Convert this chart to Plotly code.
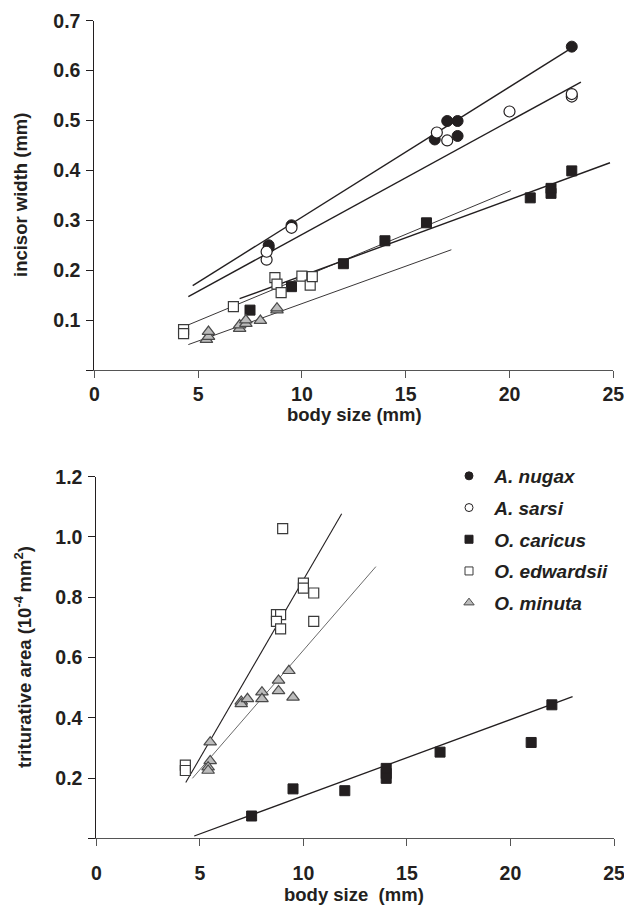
import plotly.graph_objects as go

# ---------------- data ----------------
species = ["A. nugax", "A. sarsi", "O. caricus", "O. edwardsii", "O. minuta"]

# top panel: incisor width (mm) vs body size (mm)
nugax_top_x = [8.4, 8.4, 9.5, 16.4, 17.0, 17.5, 17.5, 23.0]
nugax_top_y = [0.245, 0.250, 0.290, 0.462, 0.499, 0.499, 0.469, 0.648]
sarsi_top_x = [8.3, 8.3, 9.5, 16.5, 17.0, 20.0, 23.0, 23.0]
sarsi_top_y = [0.221, 0.237, 0.285, 0.476, 0.460, 0.518, 0.548, 0.553]
caricus_top_x = [7.5, 9.5, 12.0, 14.0, 16.0, 21.0, 22.0, 22.0, 23.0]
caricus_top_y = [0.120, 0.167, 0.213, 0.259, 0.295, 0.345, 0.354, 0.364, 0.399]
edwardsii_top_x = [4.3, 4.3, 6.7, 8.7, 8.8, 9.0, 10.0, 10.4, 10.5]
edwardsii_top_y = [0.081, 0.073, 0.127, 0.185, 0.172, 0.155, 0.188, 0.170, 0.187]
minuta_top_x = [5.4, 5.5, 5.5, 7.0, 7.0, 7.3, 7.3, 8.0, 8.8, 8.8]
minuta_top_y = [0.061, 0.067, 0.077, 0.083, 0.090, 0.093, 0.100, 0.099, 0.120, 0.124]

# top panel fitted lines: slope, intercept, x-extent
top_fit_slope = [0.0261, 0.02274, 0.01527, 0.01732, 0.0150]
top_fit_intercept = [0.0453, 0.044, 0.036, 0.012, -0.017]
top_fit_xmin = [4.74, 4.53, 7.0, 4.53, 4.53]
top_fit_xmax = [23.0, 23.44, 24.84, 20.06, 17.2]

# bottom panel: triturative area (1e-4 mm^2) vs body size (mm)
caricus_bot_x = [7.5, 9.5, 12.0, 14.0, 14.0, 14.0, 16.6, 21.0, 22.0]
caricus_bot_y = [0.074, 0.164, 0.158, 0.232, 0.215, 0.199, 0.286, 0.318, 0.443]
edwardsii_bot_x = [4.3, 4.3, 8.7, 8.9, 8.7, 8.9, 9.0, 10.0, 10.0, 10.5, 10.5]
edwardsii_bot_y = [0.243, 0.225, 0.742, 0.742, 0.720, 0.695, 1.028, 0.847, 0.830, 0.814, 0.720]
minuta_bot_x = [5.5, 5.5, 5.4, 5.4, 7.0, 7.0, 7.3, 8.0, 8.0, 8.8, 8.8, 9.3, 9.5]
minuta_bot_y = [0.319, 0.257, 0.236, 0.225, 0.454, 0.446, 0.463, 0.485, 0.463, 0.524, 0.489, 0.556, 0.468]

# bottom fitted lines (caricus, edwardsii, minuta)
bot_fit_slope = [0.0253, 0.1185, 0.0793]
bot_fit_intercept = [-0.112, -0.327, -0.169]
bot_fit_xmin = [4.73, 4.32, 4.64]
bot_fit_xmax = [23.0, 11.85, 13.5]

x_ticks = [0, 5, 10, 15, 20, 25]
top_y_ticks = [0, 0.1, 0.2, 0.3, 0.4, 0.5, 0.6, 0.7]
top_y_labels = [" ", "0.1", "0.2", "0.3", "0.4", "0.5", "0.6", "0.7"]
bot_y_ticks = [0, 0.2, 0.4, 0.6, 0.8, 1.0, 1.2]
bot_y_labels = [" ", "0.2", "0.4", "0.6", "0.8", "1.0", "1.2"]

# ---------------- styling ----------------
W, H = 624, 905
INK = "#231f20"
FONT = "Liberation Sans, Arial, sans-serif"

styles = {
    "A. nugax": dict(symbol="circle", size=11, color=INK, line=dict(color=INK, width=1)),
    "A. sarsi": dict(symbol="circle", size=11, color="white", line=dict(color=INK, width=1.2)),
    "O. caricus": dict(symbol="square", size=10, color=INK, line=dict(color=INK, width=1)),
    "O. edwardsii": dict(symbol="square", size=10, color="white", line=dict(color="#3a3a3a", width=1.2)),
    "O. minuta": dict(symbol="triangle-up", size=11, color="#bcbcbc", line=dict(color="#4a4a4a", width=1.2)),
}
legend_styles = {
    "A. nugax": dict(symbol="circle", size=8, color=INK, line=dict(color=INK, width=1)),
    "A. sarsi": dict(symbol="circle", size=8, color="white", line=dict(color=INK, width=1)),
    "O. caricus": dict(symbol="square", size=8, color=INK, line=dict(color=INK, width=1)),
    "O. edwardsii": dict(symbol="square", size=8, color="white", line=dict(color="#3a3a3a", width=1)),
    "O. minuta": dict(symbol="triangle-up", size=9, color="#bcbcbc", line=dict(color="#4a4a4a", width=1)),
}
top_line_w = [1.4, 1.4, 1.4, 0.9, 0.9]
bot_line_w = [1.3, 1.1, 0.8]
bot_line_c = [INK, INK, "#444444"]

fig = go.Figure()

# top fit lines
for i, sp in enumerate(species):
    xs = [top_fit_xmin[i], top_fit_xmax[i]]
    ys = [top_fit_slope[i] * v + top_fit_intercept[i] for v in xs]
    fig.add_trace(go.Scatter(x=xs, y=ys, mode="lines", showlegend=False, hoverinfo="skip",
                             line=dict(color=INK, width=top_line_w[i]), xaxis="x", yaxis="y"))
# bottom fit lines
for i, sp in enumerate(["O. caricus", "O. edwardsii", "O. minuta"]):
    xs = [bot_fit_xmin[i], bot_fit_xmax[i]]
    ys = [bot_fit_slope[i] * v + bot_fit_intercept[i] for v in xs]
    fig.add_trace(go.Scatter(x=xs, y=ys, mode="lines", showlegend=False, hoverinfo="skip",
                             line=dict(color=bot_line_c[i], width=bot_line_w[i]), xaxis="x2", yaxis="y2"))

top_data = {
    "A. nugax": (nugax_top_x, nugax_top_y),
    "A. sarsi": (sarsi_top_x, sarsi_top_y),
    "O. caricus": (caricus_top_x, caricus_top_y),
    "O. edwardsii": (edwardsii_top_x, edwardsii_top_y),
    "O. minuta": (minuta_top_x, minuta_top_y),
}
bot_data = {
    "O. caricus": (caricus_bot_x, caricus_bot_y),
    "O. edwardsii": (edwardsii_bot_x, edwardsii_bot_y),
    "O. minuta": (minuta_bot_x, minuta_bot_y),
}

for sp in species:
    x, y = top_data[sp]
    fig.add_trace(go.Scatter(x=x, y=y, mode="markers", name=sp, showlegend=False,
                             marker=styles[sp], xaxis="x", yaxis="y", cliponaxis=False))
for sp, (x, y) in bot_data.items():
    fig.add_trace(go.Scatter(x=x, y=y, mode="markers", name=sp, showlegend=False,
                             marker=styles[sp], xaxis="x2", yaxis="y2", cliponaxis=False))
# legend entries (smaller symbols as in the reference legend)
for sp in species:
    fig.add_trace(go.Scatter(x=[None], y=[None], mode="markers", name="\u00a0" + sp,
                             legendgroup=sp, marker=legend_styles[sp], xaxis="x2", yaxis="y2"))

tickfont = dict(family=FONT, size=19.5, color=INK, weight="bold")
common_x = dict(range=[0, 25], tickvals=x_ticks, ticks="outside", ticklen=7, tickwidth=1,
                tickcolor="#555555", showline=True, linecolor="#555555", linewidth=1,
                showgrid=False, zeroline=False, tickfont=tickfont, fixedrange=True,
                automargin=False, ticklabeloverflow="allow")
common_y = dict(ticks="outside", ticklen=7, tickwidth=1, tickcolor=INK, showline=True,
                linecolor=INK, linewidth=1, showgrid=False, zeroline=False,
                tickfont=tickfont, fixedrange=True, automargin=False, ticklabelstandoff=2,
                ticklabeloverflow="allow")

fig.update_layout(
    width=W, height=H,
    margin=dict(l=0, r=0, t=0, b=0, autoexpand=False),
    paper_bgcolor="white", plot_bgcolor="white",
    font=dict(family=FONT, color=INK),
    xaxis=dict(domain=[94.3 / W, 613.3 / W], anchor="y", ticklabelstandoff=0, **common_x),
    yaxis=dict(domain=[1 - 370 / H, 1 - 20.7 / H], anchor="x", range=[0, 0.7],
               tickvals=top_y_ticks, ticktext=top_y_labels, **common_y),
    xaxis2=dict(domain=[96.3 / W, 614 / W], anchor="y2", ticklabelstandoff=10, **common_x),
    yaxis2=dict(domain=[1 - 838.3 / H, 1 - 476.7 / H], anchor="x2", range=[0, 1.2],
                tickvals=bot_y_ticks, ticktext=bot_y_labels, **common_y),
    legend=dict(x=449 / W, y=1 - 457 / H, xanchor="left", yanchor="top",
                font=dict(family=FONT, size=19, color=INK, weight="bold", style="italic"),
                itemsizing="trace", tracegroupgap=4, bgcolor="rgba(0,0,0,0)"),
    showlegend=True,
)

title_font = dict(family=FONT, size=18.5, color=INK, weight="bold")
fig.add_annotation(text="body size (mm)", x=354 / W, y=1 - 414 / H, xref="paper", yref="paper",
                   showarrow=False, font=title_font, xanchor="center", yanchor="middle")
fig.add_annotation(text="body size\u00a0 (mm)", x=354 / W, y=1 - 894 / H, xref="paper", yref="paper",
                   showarrow=False, font=title_font, xanchor="center", yanchor="middle")
fig.add_annotation(text="incisor width (mm)", x=20 / W, y=1 - 195 / H, xref="paper", yref="paper",
                   showarrow=False, font=title_font, textangle=-90, xanchor="center", yanchor="middle")
fig.add_annotation(text="triturative area (10<sup>-4 </sup>mm<sup>2</sup>)", x=23 / W, y=1 - 657 / H,
                   xref="paper", yref="paper", showarrow=False, font=title_font, textangle=-90,
                   xanchor="center", yanchor="middle")

fig.write_html("out.html", config={"displayModeBar": False},
               post_script="document.body.style.margin='0';document.body.style.overflow='hidden';")
